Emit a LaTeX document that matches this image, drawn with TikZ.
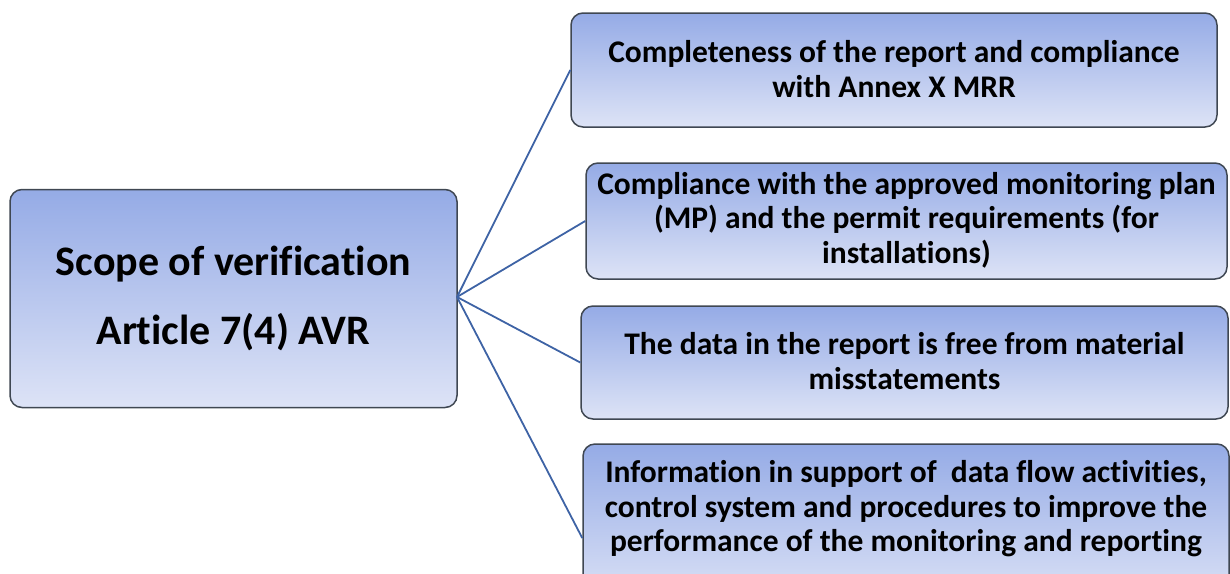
\documentclass[tikz,border=0pt]{standalone}
\usepackage{fontspec}
\setmainfont[Ligatures=NoCommon]{Carlito}
\usetikzlibrary{shadings}
\definecolor{topc}{HTML}{95ABE6}
\definecolor{botc}{HTML}{DDE3F6}
\definecolor{edgec}{HTML}{3F4752}
\definecolor{linec}{HTML}{3E63A5}
\tikzset{
  boxstyle/.style={draw=edgec, line width=1.5pt, rounded corners=12pt,
    top color=topc, bottom color=botc, inner sep=0pt},
  txt/.style={font=\bfseries\fontsize{31.5}{34.5}\selectfont, align=center, text=black},
  conn/.style={draw=linec, line width=1.8pt}
}
\begin{document}
\begin{tikzpicture}[x=1pt,y=-1pt]
\useasboundingbox (0,0) rectangle (1230,573);
\clip (0,0) rectangle (1230,573);
\node[boxstyle, minimum width=447pt, minimum height=218pt] (main) at (233.5,298.5) {};
\node[font=\bfseries\fontsize{42}{69}\selectfont, align=center] (maint) at (233.5,298) {Scope of verification\\Article 7(4) AVR};
\node[boxstyle, minimum width=646pt, minimum height=114pt] (b1) at (894,70) {};
\node[txt] (b1t) at (894,69) {Completeness of the report and compliance\\with Annex X MRR};
\node[boxstyle, minimum width=641pt, minimum height=116pt] (b2) at (906.5,221) {};
\node[txt] (b2t) at (906.5,220) {Compliance with the approved monitoring plan\\(MP) and the permit requirements (for\\installations)};
\node[boxstyle, minimum width=647pt, minimum height=113pt] (b3) at (904.5,362.5) {};
\node[txt] (b3t) at (904.5,361) {The data in the report is free from material\\misstatements};
\node[boxstyle, minimum width=646pt, minimum height=160pt] (b4) at (906,524) {};
\node[txt] (b4t) at (906,509) {Information in support of~ data flow activities,\\control system and procedures to improve the\\performance of the monitoring and reporting};
\coordinate (hub) at (457,297);
\draw[conn] (hub) -- (b1.west);
\draw[conn] (hub) -- (b2.west);
\draw[conn] (hub) -- (b3.west);
\draw[conn] (hub) -- ([yshift=-14pt]b4.west);
\end{tikzpicture}
\end{document}
